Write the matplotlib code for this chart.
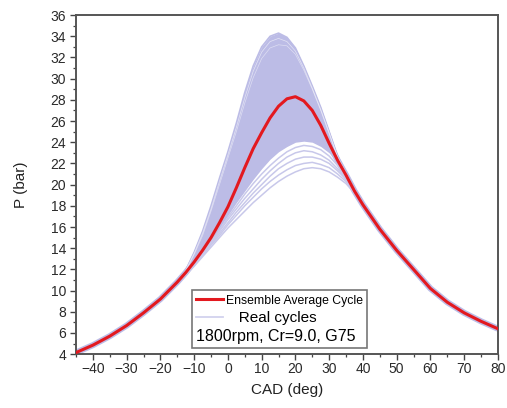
"""
Pressure traces: ensemble average cycle vs. real cycles
"""

import numpy as np
import matplotlib.pyplot as plt
from matplotlib.lines import Line2D
from matplotlib.ticker import MultipleLocator

plt.rcParams['font.family'] = ['Liberation Sans', 'DejaVu Sans']

# 曲柄转角 (deg)
cad_left = [-45, -40, -35, -30, -25, -20]
cad_mid = [-15, -12.5, -10, -7.5, -5, -2.5, 0, 2.5, 5, 7.5, 10, 12.5,
           15, 17.5, 20, 22.5, 25, 27.5, 30, 32.5, 35, 37.5, 40]
cad_right = [45, 50, 55, 60, 65, 70, 75, 80]

# 平均循环压力 (bar)
mean_left = [4.15, 4.85, 5.7, 6.7, 7.9, 9.2]
mean_mid = [10.8, 11.7, 12.7, 13.8, 15.0, 16.4, 17.9, 19.7, 21.6, 23.4, 24.9, 26.3,
            27.4, 28.1, 28.3, 27.9, 27.0, 25.6, 23.9, 22.3, 20.9, 19.4, 18.1]
mean_right = [15.8, 13.8, 12.0, 10.2, 8.9, 7.9, 7.1, 6.4]

# 实际循环 (只在分散区域内不同)
upper = [10.8, 11.9, 13.6, 15.6, 18.0, 20.6, 23.1, 25.8, 28.7, 31.2, 33.0, 34.0,
         34.3, 33.9, 32.9, 31.2, 29.3, 27.3, 25.0, 22.7, 21.2, 19.7, 18.3]
top2 = [10.8, 11.9, 13.5, 15.4, 17.7, 20.3, 22.8, 25.4, 28.2, 30.7, 32.5, 33.5,
        33.8, 33.5, 32.6, 31.0, 29.1, 27.1, 24.9, 22.6, 21.1, 19.6, 18.2]
top3 = [10.8, 11.8, 13.4, 15.2, 17.5, 20.0, 22.5, 25.0, 27.7, 30.1, 31.9, 32.9,
        33.2, 33.1, 32.3, 30.8, 29.0, 27.0, 24.8, 22.6, 21.1, 19.6, 18.2]
band_low = [10.8, 11.6, 12.6, 13.6, 14.7, 15.9, 17.1, 18.3, 19.4, 20.5, 21.5, 22.4,
            23.1, 23.6, 24.0, 24.1, 24.0, 23.6, 23.0, 22.0, 20.8, 19.4, 18.0]
low5 = [10.8, 11.6, 12.5, 13.5, 14.6, 15.7, 16.9, 18.0, 19.1, 20.1, 21.0, 21.8,
        22.5, 23.1, 23.5, 23.7, 23.6, 23.3, 22.7, 21.8, 20.7, 19.4, 18.0]
low4 = [10.8, 11.6, 12.5, 13.5, 14.5, 15.6, 16.7, 17.7, 18.7, 19.6, 20.5, 21.3,
        22.0, 22.6, 23.0, 23.2, 23.1, 22.8, 22.3, 21.5, 20.6, 19.4, 18.0]
low3 = [10.8, 11.5, 12.4, 13.4, 14.4, 15.4, 16.4, 17.4, 18.3, 19.2, 20.0, 20.8,
        21.5, 22.0, 22.4, 22.6, 22.6, 22.4, 22.0, 21.3, 20.5, 19.4, 18.0]
low2 = [10.8, 11.5, 12.4, 13.3, 14.3, 15.2, 16.2, 17.1, 18.0, 18.8, 19.6, 20.3,
        20.9, 21.4, 21.8, 22.0, 22.1, 21.9, 21.6, 21.0, 20.3, 19.3, 18.0]
low1 = [10.8, 11.5, 12.3, 13.2, 14.1, 15.0, 15.9, 16.7, 17.5, 18.3, 19.0, 19.7,
        20.3, 20.8, 21.2, 21.5, 21.6, 21.5, 21.2, 20.7, 20.1, 19.2, 18.0]

RED = '#e3191f'
LAV = '#bcbce6'
LAV_LINE = '#c8c8ea'

cad = np.array(cad_left + cad_mid + cad_right)
mean = np.array(mean_left + mean_mid + mean_right)

fig = plt.figure(figsize=(5.07, 4.08), dpi=100)
ax = fig.add_axes([0.150, 0.132, 0.832, 0.831])

# 实际循环: 包络带 + 单独可见的循环
ax.plot(cad, mean, color=LAV, lw=4.4, solid_capstyle='butt',
        solid_joinstyle='round', zorder=1)
ax.fill_between(cad_mid, band_low, upper, color=LAV, lw=0, zorder=1)
for cyc in [upper, top2, top3]:
    ax.plot(cad_mid, cyc, color=LAV, lw=1.2, solid_joinstyle='round', zorder=1)
for cyc in [low5, low4, low3, low2, low1]:
    ax.plot(cad_mid, cyc, color=LAV_LINE, lw=1.1, solid_joinstyle='round', zorder=1)
ax.plot(cad_mid, top2, color='white', lw=0.5, alpha=0.6, zorder=1.5)
ax.plot(cad_mid, top3, color='white', lw=0.5, alpha=0.5, zorder=1.5)

# 平均循环
ax.plot(cad, mean, color=RED, lw=2.2, solid_joinstyle='round', zorder=3)

ax.set_xlim(-45, 80)
ax.set_ylim(4, 36)
ax.xaxis.set_major_locator(MultipleLocator(10))
ax.xaxis.set_minor_locator(MultipleLocator(5))
ax.yaxis.set_major_locator(MultipleLocator(2))
ax.yaxis.set_minor_locator(MultipleLocator(1))
ax.tick_params(which='major', direction='out', length=4, width=1.0,
               color='#444444', labelsize=10, labelcolor='#2a2a2a', pad=2)
ax.tick_params(axis='y', which='major', pad=3)
ax.tick_params(which='minor', direction='out', length=2, width=0.9, color='#444444')
ax.tick_params(top=False, right=False)
for sp in ax.spines.values():
    sp.set_color('#555555')
    sp.set_linewidth(1.4)

ax.set_xlabel('CAD (deg)', fontsize=11, color='#222222', labelpad=5)
ax.set_ylabel('P (bar)', fontsize=11, color='#222222', labelpad=16)

handles = [Line2D([], [], color=RED, lw=2.2),
           Line2D([], [], color='#d2d2ee', lw=1.3)]
leg = ax.legend(handles, ['Ensemble Average Cycle', '   Real cycles'],
                title='1800rpm, Cr=9.0, G75', loc='lower left',
                bbox_to_anchor=(0.275, 0.018), frameon=True, fancybox=False,
                edgecolor='#555555', fontsize=10, handlelength=1.95,
                handletextpad=0.2, borderpad=0.3, labelspacing=0.3,
                borderaxespad=0, alignment='left')
leg.get_frame().set_linewidth(1.2)
leg.get_title().set_fontsize(11.5)
texts = leg.get_texts()
texts[0].set_fontsize(8.8)
texts[1].set_fontsize(11)
# 标题放到图例底部
leg._legend_box._children.reverse()

fig.savefig('out.png', dpi=100)
